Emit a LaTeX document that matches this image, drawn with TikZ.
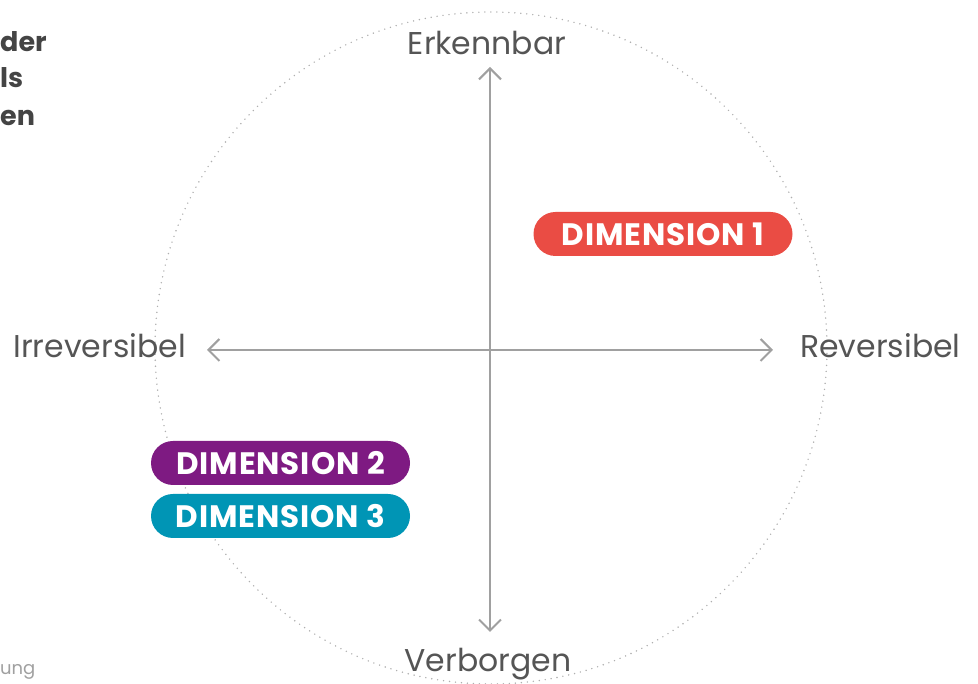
\documentclass[tikz,border=0pt]{standalone}
\usepackage{fontspec}
\setmainfont{Poppins}
\usetikzlibrary{arrows.meta,positioning}
\definecolor{dimRed}{RGB}{234,76,68}
\definecolor{dimPurple}{RGB}{126,26,130}
\definecolor{dimTeal}{RGB}{0,149,181}
\definecolor{axGray}{RGB}{160,160,160}
\definecolor{txtGray}{RGB}{85,85,85}
\definecolor{headGray}{RGB}{68,68,68}
\definecolor{dotGray}{RGB}{175,175,175}

\begin{document}
\begin{tikzpicture}[x=1pt,y=1pt,
    axis/.style={axGray, line width=2pt, {Straight Barb[length=11pt,width=22pt]}-{Straight Barb[length=11pt,width=22pt]}},
    pole/.style={text=txtGray, font=\fontsize{31.5}{36}\selectfont, inner sep=0pt},
    pill/.style={fill=#1, text=white, rounded corners=22pt, minimum width=259pt, minimum height=44pt, inner sep=0pt, font=\bfseries\fontsize{31}{34}\selectfont\addfontfeature{LetterSpace=3}}]
    \useasboundingbox (0,0) rectangle (978,684);

    % dotted circle
    \draw[dotGray, line width=1.6pt, line cap=round, dash pattern=on 0pt off 6pt] (491,336) circle (336);

    % axes
    \coordinate (xl) at (207,334);
    \coordinate (xr) at (773,334);
    \coordinate (yt) at (490,617);
    \coordinate (yb) at (490,52);
    \draw[axis] (xl) -- (xr);
    \draw[axis] (yb) -- (yt);

    % pole labels
    \node[pole, anchor=base] (erk) at (487,629) {Erkennbar};
    \node[pole, anchor=base] (verb) at (488,12) {Verborgen};
    \node[pole, anchor=base east] (irr) at (186,326) {Irreversibel};
    \node[pole, anchor=base west] (rev) at (800,326) {Reversibel};

    % dimensions
    \node[pill=dimRed] (dimA) at (663,450) {DIMENSION 1};
    \node[pill=dimPurple] (dimB) at (280.5,221) {DIMENSION 2};
    \node[pill=dimTeal] (dimC) at (280.5,168) {DIMENSION 3};

    % cut-off text at the left edge
    \node[text=headGray, font=\bfseries\fontsize{27}{34}\selectfont, anchor=base west, inner sep=0pt] (hdA) at (0,632) {der};
    \node[text=headGray, font=\bfseries\fontsize{27}{34}\selectfont, anchor=base west, inner sep=0pt] (hdB) at (0,596) {ls};
    \node[text=headGray, font=\bfseries\fontsize{27}{34}\selectfont, anchor=base west, inner sep=0pt] (hdC) at (0,558) {en};
    \node[text=axGray, font=\fontsize{18}{22}\selectfont, anchor=base west, inner sep=0pt] (src) at (0,9) {ung};
\end{tikzpicture}
\end{document}
